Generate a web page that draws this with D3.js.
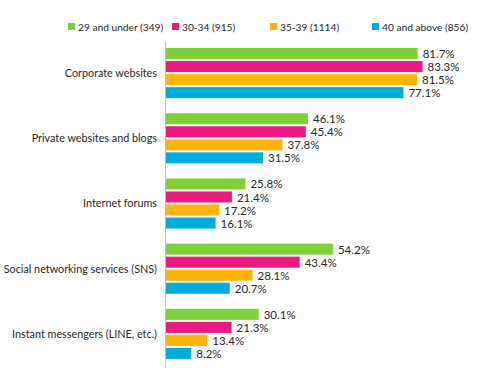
<!DOCTYPE html>
<html>
<head>
<meta charset="utf-8">
<script src="https://cdn.jsdelivr.net/npm/d3@7"></script>
<style>
  body { margin: 0; background: #fff; }
  text { font-family: Lato, "Noto Sans", sans-serif; fill: #262626; }
</style>
</head>
<body>
<div id="chart"></div>
<script>
var categories = ['Corporate websites', 'Private websites and blogs', 'Internet forums',
  'Social networking services (SNS)', 'Instant messengers (LINE, etc.)'];
var series = ['29 and under (349)', '30-34 (915)', '35-39 (1114)', '40 and above (856)'];
var colors = ['#7ed13b', '#ea1a7e', '#ffb40a', '#00acdc'];
var under29 = [81.7, 46.1, 25.8, 54.2, 30.1];
var age30_34 = [83.3, 45.4, 21.4, 43.4, 21.3];
var age35_39 = [81.5, 37.8, 17.2, 28.1, 13.4];
var over40 = [77.1, 31.5, 16.1, 20.7, 8.2];
var values = [under29, age30_34, age35_39, over40];

var width = 500,
    height = 379;

var svg = d3.select('#chart').append('svg')
  .attr('width', width)
  .attr('height', height);

var y0 = d3.scaleBand()
  .domain(categories)
  .range([41, 367])
  .paddingInner(0.2)
  .paddingOuter(0.1);

var y1 = d3.scaleBand()
  .domain(series)
  .range([0, y0.bandwidth()]);

var x = d3.scaleLinear()
  .domain([0, 100])
  .range([166, 474]);

var rows = [];
categories.forEach(function(c, i) {
  series.forEach(function(s, j) {
    rows.push({cat: c, ser: s, value: values[j][i], color: colors[j]});
  });
});

svg.selectAll('.bar')
  .data(rows)
  .enter().append('rect')
  .attr('class', 'bar')
  .attr('x', x(0))
  .attr('y', function(d) { return y0(d.cat) + y1(d.ser) + 0.5; })
  .attr('width', function(d) { return x(d.value) - x(0); })
  .attr('height', y1.bandwidth() - 2)
  .style('fill', function(d) { return d.color; });

svg.selectAll('.val')
  .data(rows)
  .enter().append('text')
  .attr('class', 'val')
  .attr('x', function(d) { return x(d.value) + 5; })
  .attr('y', function(d) { return y0(d.cat) + y1(d.ser) + y1.bandwidth() / 2; })
  .attr('dy', '0.35em')
  .style('font-size', '11.5px')
  .text(function(d) { return d.value.toFixed(1) + '%'; });

// category axis
var yAxis = d3.axisLeft(y0).tickSize(0).tickPadding(8);
var ga = svg.append('g')
  .attr('transform', 'translate(165,0)')
  .call(yAxis);
ga.select('.domain').attr('stroke', '#bdbdbd');
ga.selectAll('text')
  .style('font-size', '10.8px')
  .style('font-family', 'Lato, "Noto Sans", sans-serif')
  .style('fill', '#262626');

// legend
var legendX = [68, 172, 270, 372];
var lg = svg.selectAll('.legend')
  .data(series)
  .enter().append('g')
  .attr('transform', function(d, i) { return 'translate(' + legendX[i] + ',23)'; });

lg.append('rect')
  .attr('width', 7)
  .attr('height', 7)
  .style('fill', function(d, i) { return colors[i]; });

lg.append('text')
  .attr('x', 10)
  .attr('y', 4)
  .attr('dy', '0.35em')
  .style('font-size', '10.2px')
  .text(function(d) { return d; });
</script>
</body>
</html>
